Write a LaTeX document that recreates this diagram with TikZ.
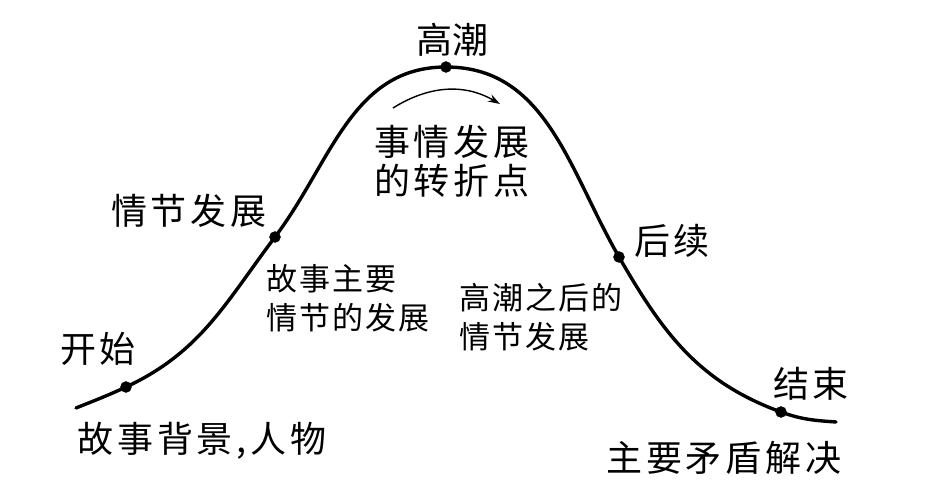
\documentclass[tikz,border=0pt]{standalone}
\usepackage{fontspec}
\usepackage{tikz}
\usetikzlibrary{arrows.meta}
\newfontfamily\cjkplain{Noto Sans CJK SC}
\newfontfamily\cjkwide{Noto Sans CJK SC}[LetterSpace=11]
\newfontfamily\cjksmall{Noto Sans CJK SC}[LetterSpace=7]

\begin{document}
\begin{tikzpicture}[x=1pt,y=1pt]
  \tikzset{plotpoint/.style={circle,fill=black,draw=black,inner sep=0pt,minimum size=11pt}}
  \tikzset{plotcurve/.style={draw=black,line width=3.4pt,line cap=round}}
  \tikzset{turnarrow/.style={draw=black,line width=1.4pt,-{Stealth[length=12pt,width=8pt]}}}
  \tikzset{pointlabel/.style={font=\cjkwide\fontsize{36}{39}\selectfont,inner sep=0pt,text=black,align=left}}
  \tikzset{notelabel/.style={font=\cjksmall\fontsize{31}{39}\selectfont,inner sep=0pt,text=black,align=left}}
  \useasboundingbox (0,0) rectangle (930,483);
  \coordinate (a0) at (76,75);
  \node[plotpoint] (v1) at (126,96) {};
  \node[plotpoint] (v2) at (275,246) {};
  \node[plotpoint] (v3) at (446,416) {};
  \node[plotpoint] (v4) at (619,226) {};
  \node[plotpoint] (v5) at (781,71) {};
  \coordinate (a6) at (836,61);
  \draw[plotcurve] (a0) to[out=22,in=205] (v1.center)
    to[out=25,in=233] (v2.center)
    to[out=53,in=180] (v3.center)
    to[out=0,in=120] (v4.center)
    to[out=-60,in=160] (v5.center)
    to[out=-20,in=176] (a6);
  \coordinate (r0) at (393,375);
  \coordinate (r1) at (500,379);
  \draw[turnarrow] (r0) to[out=32,in=150] (r1);
  \node[pointlabel,font=\cjkplain\fontsize{36}{39}\selectfont] (top) at (452,443) {高潮};
  \node[pointlabel] (turn) at (452,322) {事情发展\\的转折点};
  \node[pointlabel] (rise) at (189,272) {情节发展};
  \node[notelabel] (risenote) at (348,185) {故事主要\\情节的发展};
  \node[notelabel] (fallnote) at (541,166) {高潮之后的\\情节发展};
  \node[pointlabel] (fall) at (672,242) {后续};
  \node[pointlabel] (start) at (98,134) {开始};
  \node[pointlabel] (startnote) at (202,42) {故事背景,人物};
  \node[pointlabel] (finish) at (811,99) {结束};
  \node[pointlabel] (finishnote) at (724,25) {主要矛盾解决};
\end{tikzpicture}
\end{document}
